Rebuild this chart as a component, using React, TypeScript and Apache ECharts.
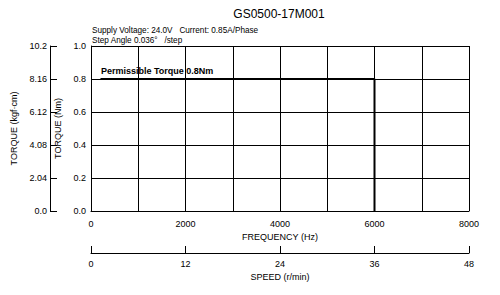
import React, { useEffect, useRef } from "react";
import * as echarts from "echarts";

const titleText = "GS0500-17M001";
const subText1 = "Supply Voltage: 24.0V   Current: 0.85A/Phase";
const subText2 = "Step Angle 0.036°   /step";
const annotation = "Permissible Torque 0.8Nm";

const freqTicks = [0, 2000, 4000, 6000, 8000];
const speedTicks = [0, 12, 24, 36, 48];
const nmTicks = [0, 0.2, 0.4, 0.6, 0.8, 1.0];
const kgfTicks = ["0.0", "2.04", "4.08", "6.12", "8.16", "10.2"];

const torqueFreq = [200, 6000, 6000];
const torqueNm = [0.8, 0.8, 0];

const FONT = "Liberation Sans, Arial, sans-serif";

export default function App() {
  const ref = useRef<HTMLDivElement>(null);
  useEffect(() => {
    if (!ref.current) return;
    const chart = echarts.init(ref.current, null, { renderer: "svg" });
    const black = "#000";
    const lbl = { color: "#000", fontSize: 9, fontFamily: FONT };
    chart.setOption({
      animation: false,
      backgroundColor: "#fff",
      textStyle: { fontFamily: FONT },
      graphic: [
        { type: "text", x: 279, y: 14, style: { text: titleText, fontSize: 12, fill: "#000", fontFamily: FONT, align: "center", verticalAlign: "middle" } },
        { type: "text", x: 92, y: 30, style: { text: subText1, fontSize: 8.2, fill: "#000", fontFamily: FONT, verticalAlign: "middle" } },
        { type: "text", x: 92, y: 40, style: { text: subText2, fontSize: 8.2, fill: "#000", fontFamily: FONT, verticalAlign: "middle" } },
        { type: "text", x: 101, y: 71, style: { text: annotation, fontSize: 9, fontWeight: "bold", fill: "#000", fontFamily: FONT, verticalAlign: "middle" } },
      ],
      grid: { left: 91, right: 31, top: 46, bottom: 84, containLabel: false },
      xAxis: [
        {
          type: "value",
          min: freqTicks[0],
          max: freqTicks[freqTicks.length - 1],
          interval: 1000,
          name: "FREQUENCY (Hz)",
          nameLocation: "middle",
          nameGap: 20,
          nameTextStyle: { ...lbl, fontSize: 9 },
          axisLine: { onZero: false, lineStyle: { color: black, width: 1 } },
          axisTick: { show: false },
          axisLabel: { ...lbl, margin: 8, formatter: (v: number) => (freqTicks.includes(v) ? String(v) : "") },
          splitLine: { show: true, lineStyle: { color: black, width: 1 } },
        },
        {
          type: "value",
          position: "bottom",
          offset: 42,
          min: speedTicks[0],
          max: speedTicks[speedTicks.length - 1],
          interval: 12,
          name: "SPEED (r/min)",
          nameLocation: "middle",
          nameGap: 15,
          nameTextStyle: { ...lbl },
          axisLine: { show: true, onZero: false, lineStyle: { color: black, width: 1 } },
          axisTick: { show: true, inside: true, length: 7, lineStyle: { color: black } },
          axisLabel: { ...lbl, margin: 6 },
          splitLine: { show: false },
        },
      ],
      yAxis: [
        {
          type: "value",
          min: nmTicks[0],
          max: nmTicks[nmTicks.length - 1],
          interval: 0.2,
          name: "TORQUE (Nm)",
          nameLocation: "middle",
          nameGap: 18,
          nameTextStyle: { ...lbl },
          axisLine: { show: true, onZero: false, lineStyle: { color: black, width: 1 } },
          axisTick: { show: false },
          axisLabel: { ...lbl, margin: 5, formatter: (v: number) => v.toFixed(1) },
          splitLine: { show: true, lineStyle: { color: black, width: 1 } },
        },
        {
          type: "value",
          position: "left",
          offset: 41,
          min: 0,
          max: kgfTicks.length - 1,
          interval: 1,
          name: "TORQUE (kgf·cm)",
          nameLocation: "middle",
          nameGap: 25,
          nameTextStyle: { ...lbl },
          axisLine: { show: true, onZero: false, lineStyle: { color: black, width: 1 } },
          axisTick: { show: true, inside: true, length: 7, lineStyle: { color: black } },
          axisLabel: { ...lbl, margin: 3, formatter: (v: number) => kgfTicks[Math.round(v)] ?? "" },
          splitLine: { show: false },
        },
      ],
      series: [
        {
          type: "line",
          xAxisIndex: 0,
          yAxisIndex: 0,
          data: torqueFreq.map((f, i) => [f, torqueNm[i]]),
          symbol: "none",
          lineStyle: { color: black, width: 2 },
          silent: true,
        },
      ],
    });
    return () => chart.dispose();
  }, []);
  return <div ref={ref} style={{ position: "absolute", left: 0, top: 0, width: 500, height: 295 }} />;
}
